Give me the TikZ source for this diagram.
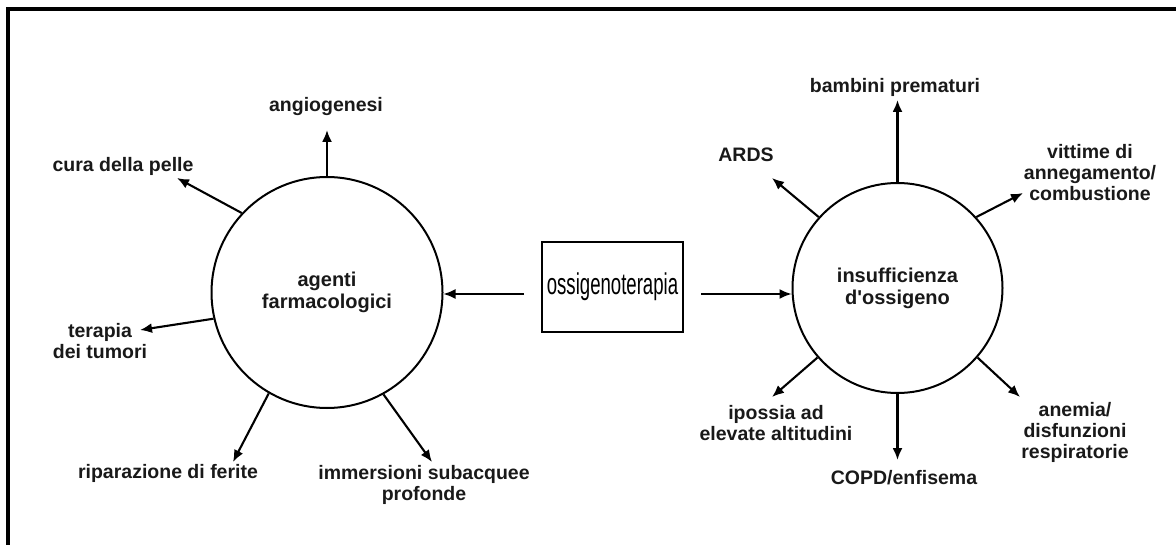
\documentclass[tikz,border=0pt]{standalone}
\usepackage{fontspec}
\setmainfont{Liberation Sans}
\newfontfamily\labfont{Liberation Sans}
\newfontfamily\narrowfont[FakeStretch=0.62]{Liberation Sans}
\usetikzlibrary{arrows.meta}
\begin{document}
\begin{tikzpicture}[x=1pt,y=-1pt,
  lbl/.style={font=\labfont\fontsize{19.5}{21}\selectfont\bfseries, align=center, inner sep=0pt, text=black!90},
  hub/.style={circle, draw, line width=2pt, minimum size=#1, inner sep=0pt, font=\labfont\fontsize{20}{22}\selectfont\bfseries, align=center, text=black!90},
  spoke/.style={line width=2.1pt, -{Latex[length=12pt,width=10pt]}},
  feed/.style={line width=1.6pt, -{Latex[length=12pt,width=10pt]}},
  frame/.style={line width=4pt}
]
\useasboundingbox (0,0) rectangle (1176,545);
\draw[frame] (8,560) -- (8,9.5) -- (1190,9.5);

% central box
\node[draw, line width=2pt, minimum width=141pt, minimum height=90pt, inner sep=0pt,
      font=\narrowfont\fontsize{30}{32}\selectfont] (box) at (612.5,287) {ossigenoterapia};

% hubs
\node[hub=231pt] (L) at (327,292.5) {agenti\\farmacologici};
\node[hub=210pt] (R) at (897.5,288) {insufficienza\\d'ossigeno};

\draw[feed] ([xshift=-17pt]box.west |- 0,294) -- (L.east |- 0,294);
\draw[feed] ([xshift=17pt]box.east |- 0,294) -- (R.west |- 0,294);

% left labels
\node[lbl] (angio) at (326,107) {angiogenesi};
\node[lbl] (cura) at (123,166) {cura della pelle};
\node[lbl] (terapia) at (100,341) {terapia\\dei tumori};
\node[lbl] (ripar) at (168,473) {riparazione di ferite};
\node[lbl] (immer) at (424,485) {immersioni subacquee\\profonde};

\coordinate (tAngio) at (327,130);
\coordinate (tCura) at (177,178);
\coordinate (tTerapia) at (140,330);
\coordinate (tRipar) at (233,462);
\coordinate (tImmer) at (432,462);

\draw[spoke] (L.90) -- (tAngio);
\draw[spoke] (L.137.6) -- (tCura);
\draw[spoke] (L.193.2) -- (tTerapia);
\draw[spoke] (L.240.8) -- (tRipar);
\draw[spoke] (L.299) -- (tImmer);

% right labels
\node[lbl] (bamb) at (895,87) {bambini prematuri};
\node[lbl] (ards) at (746,155) {ARDS};
\node[lbl] (vitt) at (1090,173) {vittime di\\annegamento/\\combustione};
\node[lbl] (ipos) at (776,423) {ipossia ad\\elevate altitudini};
\node[lbl] (copd) at (904,478) {COPD/enfisema};
\node[lbl] (anem) at (1075,432) {anemia/\\disfunzioni\\respiratorie};

\coordinate (tBamb) at (897.5,100);
\coordinate (tArds) at (772,178);
\coordinate (tVitt) at (1023,193);
\coordinate (tIpos) at (772,397);
\coordinate (tCopd) at (897.5,460);
\coordinate (tAnem) at (1020,397);

\draw[spoke] (R.90) -- (tBamb);
\draw[spoke] (R.138.6) -- (tArds);
\draw[spoke] (R.42.2) -- (tVitt);
\draw[spoke] (R.221.1) -- (tIpos);
\draw[spoke] (R.270) -- (tCopd);
\draw[spoke] (R.319.7) -- (tAnem);
\end{tikzpicture}
\end{document}
